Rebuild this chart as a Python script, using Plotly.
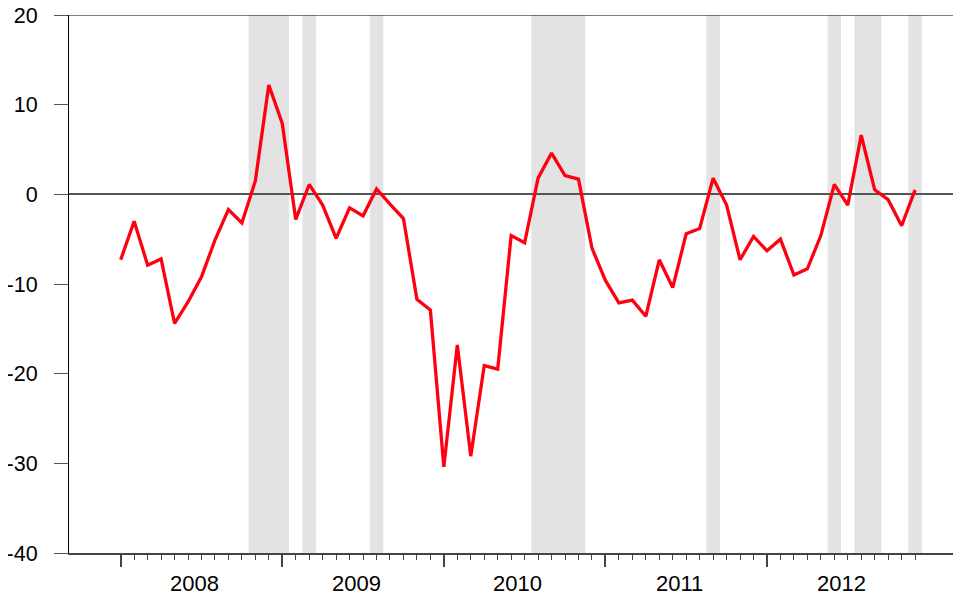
import plotly.graph_objects as go

# monthly values, Jan 2008 .. Dec 2012
months = list(range(60))
values = [
    -7.3, -3.0, -7.9, -7.2, -14.4, -12.0, -9.2, -5.1, -1.7, -3.2, 1.5, 12.2,
    7.9, -2.8, 1.1, -1.2, -4.9, -1.5, -2.4, 0.6, -1.1, -2.7, -11.7, -12.9,
    -30.4, -16.8, -29.2, -19.1, -19.5, -4.6, -5.4, 1.8, 4.6, 2.1, 1.7, -6.0,
    -9.6, -12.1, -11.8, -13.6, -7.3, -10.4, -4.4, -3.8, 1.8, -1.2, -7.3, -4.7,
    -6.3, -5.0, -9.0, -8.3, -4.6, 1.1, -1.2, 6.6, 0.5, -0.6, -3.5, 0.5,
]
years = ["2008", "2009", "2010", "2011", "2012"]
year_starts = [0, 12, 24, 36, 48]
y_ticks = [-40, -30, -20, -10, 0, 10, 20]
y_labels = ["-40", "-30", "-20", "-10", "0", "10", "20"]

# shaded periods (first month index, last month index)
shaded = [(10, 12), (14, 14), (19, 19), (31, 34), (44, 44), (53, 53), (55, 56), (59, 59)]

fig = go.Figure()
fig.add_trace(go.Scatter(x=months, y=values, mode="lines",
                         line=dict(color="#ff0010", width=3.3), showlegend=False))

shapes = []
for a, b in shaded:
    shapes.append(dict(type="rect", xref="x", yref="y", x0=a - 0.5, x1=b + 0.5,
                       y0=-40, y1=20, fillcolor="#e3e3e3", line=dict(width=0),
                       layer="below"))
# top border line
shapes.append(dict(type="line", xref="paper", yref="y", x0=0, x1=1, y0=20, y1=20,
                   line=dict(color="black", width=1.2)))

annotations = []
for s, yr in zip(year_starts, years):
    annotations.append(dict(x=s + 5.5, y=-0.056, xref="x", yref="paper", text=yr,
                            showarrow=False, yanchor="middle",
                            font=dict(size=22, color="black")))

# page body adds an 8px margin, so the figure is a bit smaller than the window
fig.update_layout(
    width=953, height=593,
    margin=dict(l=61, r=0, t=7, b=48),
    plot_bgcolor="white", paper_bgcolor="white",
    font=dict(family="Liberation Sans, Arial, sans-serif", size=22, color="black"),
    shapes=shapes,
    annotations=annotations,
    xaxis=dict(
        range=[-3.84, 62.41], automargin=False,
        showgrid=False, zeroline=False,
        showline=True, linecolor="#444", linewidth=1.5,
        tickmode="array", tickvals=year_starts, ticktext=[""] * 5,
        ticks="outside", ticklen=12, tickcolor="#444", tickwidth=1.5,
        minor=dict(tickmode="array",
                   tickvals=[m for m in months if m not in year_starts],
                   ticks="outside", ticklen=5, tickcolor="#444", tickwidth=1),
    ),
    yaxis=dict(
        range=[-40, 20], automargin=False,
        tickmode="array", tickvals=y_ticks, ticktext=y_labels,
        showgrid=False,
        zeroline=True, zerolinecolor="#555", zerolinewidth=1.5,
        showline=True, linecolor="black", linewidth=1.2,
        ticks="outside", ticklen=14, tickcolor="#555", tickwidth=1.2,
        ticklabelstandoff=12, ticklabeloverflow="allow",
        tickfont=dict(size=21.5),
    ),
)

fig.write_html("out.html")
